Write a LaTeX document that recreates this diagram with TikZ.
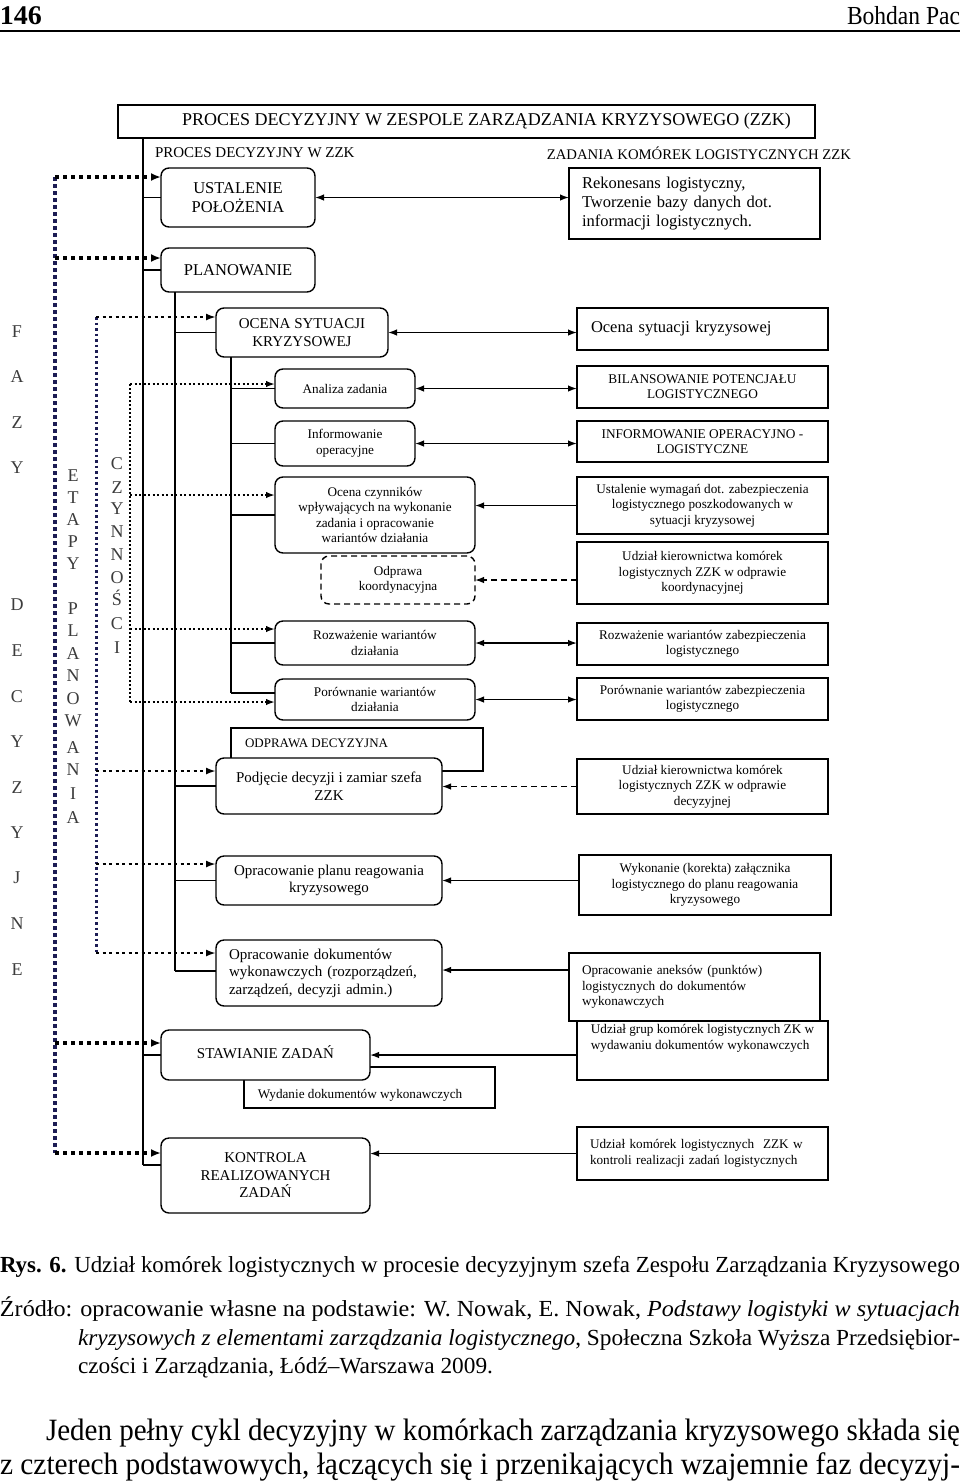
\documentclass[tikz,border=0pt]{standalone}
\usepackage{fontspec}
\setmainfont{Liberation Serif}
\usepackage{graphicx}
\usetikzlibrary{arrows.meta}
\definecolor{dnavy}{RGB}{28,28,84}
\definecolor{vgray}{RGB}{60,60,60}
\newcommand\dgA{\fontsize{16.5}{19}\selectfont}
\newcommand\dgB{\fontsize{15}{17.5}\selectfont}
\newcommand\dgC{\fontsize{13.2}{15.6}\selectfont}
\newcommand\dgK{\fontsize{13.3}{15}\selectfont}
\newcommand\dgV{\fontsize{18}{18}\selectfont}
\newcommand\dgCap{\fontsize{23}{27}\selectfont}
\newcommand\dgBody{\fontsize{31}{34}\selectfont}
\begin{document}
\begin{tikzpicture}[x=1pt,y=-1pt,
  >={Latex[length=9pt,width=6.5pt]},
  every node/.style={inner sep=0pt, outer sep=0pt},
  rbox/.style={draw, rounded corners=8pt, line width=1.4pt, fill=white, align=center},
  sbox/.style={draw, line width=1.4pt, fill=white, align=center},
  ln/.style={line width=1.4pt},
  arr/.style={ln, ->},
  barr/.style={ln, <->},
  dsh/.style={dash pattern=on 6pt off 4pt},
  dotA/.style={draw=dnavy, line width=4.5pt, dash pattern=on 3.5pt off 3.5pt},
  dotAh/.style={line width=4pt, dash pattern=on 4pt off 4pt, -{Latex[length=10pt,width=8pt]}},
  dotB/.style={draw=dnavy, line width=3pt, dash pattern=on 2.5pt off 3pt},
  dotBh/.style={line width=2.6pt, dash pattern=on 3pt off 3.5pt, -{Latex[length=10pt,width=7pt]}},
  dotC/.style={line width=2.4pt, dash pattern=on 2pt off 2pt},
  dotCh/.style={line width=1.8pt, dash pattern=on 2pt off 2.5pt, -{Latex[length=9pt,width=6.5pt]}},
  vlet/.style={font=\dgV, text=vgray, anchor=base}
]
\useasboundingbox (0,0) rectangle (960,1484);
\fill[white] (0,0) rectangle (960,1484);

% ---------- page header ----------
\node[anchor=base west] (pg) at (0,24) {\resizebox{42pt}{\height}{\fontsize{27}{27}\selectfont\bfseries 146}};
\node[anchor=base east] (au) at (960,24) {\resizebox{113pt}{\height}{\fontsize{26}{26}\selectfont Bohdan Pac}};
\draw[line width=1.2pt] (0,31) -- (960,31);

% ---------- title and headers ----------
\node[sbox, minimum width=697pt, minimum height=33pt, font=\fontsize{18}{18}\selectfont] (title) at (466.5,121.5)
  {\hspace*{40pt}PROCES DECYZYJNY W ZESPOLE ZARZĄDZANIA KRYZYSOWEGO (ZZK)};
\node[anchor=west, font=\fontsize{15}{15}\selectfont] (hl) at (155,153) {PROCES DECYZYJNY W ZZK};
\node[anchor=east, font=\fontsize{14.7}{15}\selectfont] (hr) at (851,153) {ZADANIA KOMÓREK LOGISTYCZNYCH ZZK};

% ---------- background boxes ----------
\node[sbox, minimum width=252pt, minimum height=43pt] (odd) at (357,749.5) {};
\node[anchor=west, font=\fontsize{13}{13}\selectfont] (oddt) at (245,743) {ODPRAWA DECYZYJNA};
\node[sbox, minimum width=251pt, minimum height=41pt] (wyd) at (369.5,1087.5) {};
\node[font=\dgC] (wydt) at (360,1095) {Wydanie dokumentów wykonawczych};

% ---------- left boxes ----------
\node[rbox, minimum width=154pt, minimum height=59pt, font=\dgA] (ust) at (238,197.5) {USTALENIE\\POŁOŻENIA};
\node[rbox, minimum width=154pt, minimum height=44pt, font=\dgA] (plan) at (238,270) {PLANOWANIE};
\node[rbox, minimum width=172pt, minimum height=49pt, font=\dgB] (oc) at (302,332.5) {OCENA SYTUACJI\\KRYZYSOWEJ};
\node[rbox, minimum width=140pt, minimum height=39pt, font=\dgC] (an) at (345,388.5) {Analiza zadania};
\node[rbox, minimum width=140pt, minimum height=45pt, font=\dgC] (inf) at (345,443.5) {Informowanie\\operacyjne};
\node[rbox, minimum width=200pt, minimum height=76pt, font=\dgC] (ocz) at (375,515) {Ocena czynników\\wpływających na wykonanie\\zadania i opracowanie\\wariantów działania};
\node[rbox, dsh, minimum width=154pt, minimum height=48pt, font=\dgC] (odk) at (398,580) {Odprawa\\koordynacyjna};
\node[rbox, minimum width=200pt, minimum height=44pt, font=\dgC] (roz) at (375,643) {Rozważenie wariantów\\działania};
\node[rbox, minimum width=200pt, minimum height=41pt, font=\dgC] (por) at (375,699.5) {Porównanie wariantów\\działania};
\node[rbox, minimum width=226pt, minimum height=56pt, font=\dgB] (podj) at (329,786) {Podjęcie decyzji i zamiar szefa\\ZZK};
\node[rbox, minimum width=226pt, minimum height=49pt, font=\dgB] (oplan) at (329,880.5) {Opracowanie planu reagowania\\kryzysowego};
\node[rbox, minimum width=226pt, minimum height=66pt, font=\dgB, text width=200pt, align=left] (opd) at (329,973) {Opracowanie dokumentów\\wykonawczych (rozporządzeń,\\zarządzeń, decyzji admin.)};
\node[rbox, minimum width=209pt, minimum height=50pt, font=\dgB] (staw) at (265.5,1055) {\raisebox{5pt}{STAWIANIE ZADAŃ}};
\node[rbox, minimum width=209pt, minimum height=75pt, font=\dgB] (kon) at (265.5,1175.5) {KONTROLA\\REALIZOWANYCH\\ZADAŃ};

% ---------- right boxes ----------
\node[sbox, minimum width=251pt, minimum height=71pt, font=\dgA, text width=225pt, align=left] (rek) at (694.5,203.5) {Rekonesans logistyczny,\\Tworzenie bazy danych dot.\\informacji logistycznych.};
\node[sbox, minimum width=251pt, minimum height=42pt, font=\dgA, text width=223pt, align=left] (ocs) at (702.5,329) {\raisebox{3pt}{Ocena sytuacji kryzysowej}};
\node[sbox, minimum width=251pt, minimum height=42pt, font=\dgK] (bil) at (702.5,387) {BILANSOWANIE POTENCJAŁU\\LOGISTYCZNEGO};
\node[sbox, minimum width=251pt, minimum height=41pt, font=\dgK] (infl) at (702.5,441.5) {INFORMOWANIE OPERACYJNO -\\LOGISTYCZNE};
\node[sbox, minimum width=251pt, minimum height=57pt, font=\dgC] (ustw) at (702.5,505.5) {Ustalenie wymagań dot. zabezpieczenia\\logistycznego poszkodowanych w\\sytuacji kryzysowej};
\node[sbox, minimum width=251pt, minimum height=62pt, font=\dgC] (udk) at (702.5,573) {Udział kierownictwa komórek\\logistycznych ZZK w odprawie\\koordynacyjnej};
\node[sbox, minimum width=251pt, minimum height=42pt, font=\dgC] (rozl) at (702.5,644) {Rozważenie wariantów zabezpieczenia\\logistycznego};
\node[sbox, minimum width=251pt, minimum height=42pt, font=\dgC] (porl) at (702.5,699) {Porównanie wariantów zabezpieczenia\\logistycznego};
\node[sbox, minimum width=251pt, minimum height=55pt, font=\dgC] (udd) at (702.5,786.5) {Udział kierownictwa komórek\\logistycznych ZZK w odprawie\\decyzyjnej};
\node[sbox, minimum width=252pt, minimum height=60pt, font=\dgC] (wyk) at (705,885) {Wykonanie (korekta) załącznika\\logistycznego do planu reagowania\\kryzysowego};
\node[sbox, minimum width=251pt, minimum height=68pt, font=\dgC, text width=225pt, align=left] (ane) at (694.5,987) {Opracowanie aneksów (punktów)\\logistycznych do dokumentów\\wykonawczych};
\node[sbox, minimum width=251pt, minimum height=59pt, font=\dgC, align=left] (udg) at (702.5,1050.5) {Udział grup komórek logistycznych ZK w\\wydawaniu dokumentów wykonawczych\\[12pt]};
\node[sbox, minimum width=251pt, minimum height=53pt, font=\dgC, text width=225pt, align=left] (udkk) at (702.5,1153.5) {Udział komórek logistycznych\ \ ZZK w\\kontroli realizacji zadań logistycznych};

% ---------- tree trunks ----------
\coordinate (ta0) at (143,138);
\coordinate (ta1) at (143,1165);
\draw[ln] (ta0) -- (ta1);
\draw[ln] (ta0 |- ust.west) -- (ust.west);
\draw[ln] (ta0 |- plan.west) -- (plan.west);
\draw[ln] (ta0 |- staw.west) -- (staw.west);
\draw[ln] (ta1) -- (ta1 -| kon.west);

\coordinate (tb0) at (175,292);
\coordinate (tb1) at (175,971);
\draw[ln] (tb0) -- (tb1);
\draw[ln] (tb0 |- oc.west) -- (oc.west);
\draw[ln] (tb0 |- podj.west) -- (podj.west);
\draw[ln] (tb0 |- oplan.west) -- (oplan.west);
\draw[ln] (tb1) -- (tb1 -| opd.west);

\coordinate (tc0) at (231,357);
\coordinate (tc1) at (231,693);
\draw[ln] (tc0) -- (tc1);
\draw[ln] (tc0 |- an.west) -- (an.west);
\draw[ln] (tc0 |- inf.west) -- (inf.west);
\draw[ln] (tc0 |- ocz.west) -- (ocz.west);
\draw[ln] (tc0 |- roz.west) -- (roz.west);
\draw[ln] (tc1) -- (tc1 -| por.west);

% ---------- horizontal connectors ----------
\draw[barr] (ust.east) -- (ust.east -| rek.west);
\draw[barr] (oc.east) -- (oc.east -| ocs.west);
\draw[barr] (an.east) -- (an.east -| bil.west);
\draw[barr] (inf.east) -- (inf.east -| infl.west);
\draw[arr] (ustw.west) -- (ustw.west -| ocz.east);
\draw[arr, dsh] (udk.west |- odk.east) -- (odk.east);
\draw[barr] (roz.east) -- (roz.east -| rozl.west);
\draw[barr] (por.east) -- (por.east -| porl.west);
\draw[arr, dsh] (udd.west) -- (udd.west -| podj.east);
\draw[arr] (wyk.west |- oplan.east) -- (oplan.east);
\draw[arr] ([yshift=3pt]ane.west |- opd.east) -- ([yshift=3pt]opd.east);
\draw[arr] (udg.west |- staw.east) -- (staw.east);
\draw[arr] (udkk.west) -- (udkk.west -| kon.east);

% ---------- dotted phase lines ----------
\coordinate (fa1) at (55,177);
\coordinate (fa2) at (55,258);
\coordinate (fa3) at (55,1043);
\coordinate (fa4) at (55,1153);
\draw[dotA] (fa1) -- (fa4);
\draw[dotAh] (fa1) -- (fa1 -| ust.west);
\draw[dotAh] (fa2) -- (fa2 -| plan.west);
\draw[dotAh] (fa3) -- (fa3 -| staw.west);
\draw[dotAh] (fa4) -- (fa4 -| kon.west);

\coordinate (fb1) at (96,317);
\coordinate (fb2) at (96,771);
\coordinate (fb3) at (96,864);
\coordinate (fb4) at (96,953);
\draw[dotB] (fb1) -- (fb4);
\draw[dotBh] (fb1) -- (fb1 -| oc.west);
\draw[dotBh] (fb2) -- (fb2 -| podj.west);
\draw[dotBh] (fb3) -- (fb3 -| oplan.west);
\draw[dotBh] (fb4) -- (fb4 -| opd.west);

\coordinate (fc1) at (130,384);
\coordinate (fc2) at (130,495);
\coordinate (fc3) at (130,629);
\coordinate (fc4) at (130,702);
\draw[dotC] (fc1) -- (fc4);
\draw[dotCh] (fc1) -- (fc1 -| an.west);
\draw[dotCh] (fc2) -- (fc2 -| ocz.west);
\draw[dotCh] (fc3) -- (fc3 -| roz.west);
\draw[dotCh] (fc4) -- (fc4 -| por.west);

% ---------- vertical letters ----------
\foreach \l/\yy [count=\i] in {F/331,A/376,Z/422,Y/467,D/604,E/650,C/696,Y/741,Z/787,Y/832,J/877,N/923,E/969}
  \node[vlet] (fz\i) at (17,\yy+6) {\l};
\foreach \l/\yy [count=\i] in {E/475,T/497,A/519,P/541,Y/563,P/608,L/630,A/653,N/675,O/698,W/720,A/747,N/769,I/793,A/817}
  \node[vlet] (et\i) at (73,\yy+6) {\l};
\foreach \l/\yy [count=\i] in {C/463,Z/487,Y/508,N/531,N/554,O/577,Ś/599,C/623,I/647}
  \node[vlet] (cz\i) at (117,\yy+6) {\l};

% ---------- caption and text ----------
\node[anchor=base west] (cap1) at (0,1272) {\resizebox{960pt}{\height}{\dgCap\textbf{Rys. 6.} Udział komórek logistycznych w procesie decyzyjnym szefa Zespołu Zarządzania Kryzysowego}};
\node[anchor=base west] (cap2) at (0,1316) {\resizebox{960pt}{\height}{\dgCap Źródło: opracowanie własne na podstawie: W. Nowak, E. Nowak, \textit{Podstawy logistyki w sytuacjach}}};
\node[anchor=base west] (cap3) at (78,1345) {\resizebox{882pt}{\height}{\dgCap\textit{kryzysowych z elementami zarządzania logistycznego}, Społeczna Szkoła Wyższa Przedsiębior-}};
\node[anchor=base west] (cap4) at (78,1373) {\resizebox{415pt}{\height}{\dgCap czości i Zarządzania, Łódź–Warszawa 2009.}};
\node[anchor=base west] (bd1) at (46,1440) {\resizebox{914pt}{\height}{\dgBody Jeden pełny cykl decyzyjny w komórkach zarządzania kryzysowego składa się}};
\node[anchor=base west] (bd2) at (0,1474) {\resizebox{960pt}{\height}{\dgBody z czterech podstawowych, łączących się i przenikających wzajemnie faz decyzyj-}};
\end{tikzpicture}
\end{document}
